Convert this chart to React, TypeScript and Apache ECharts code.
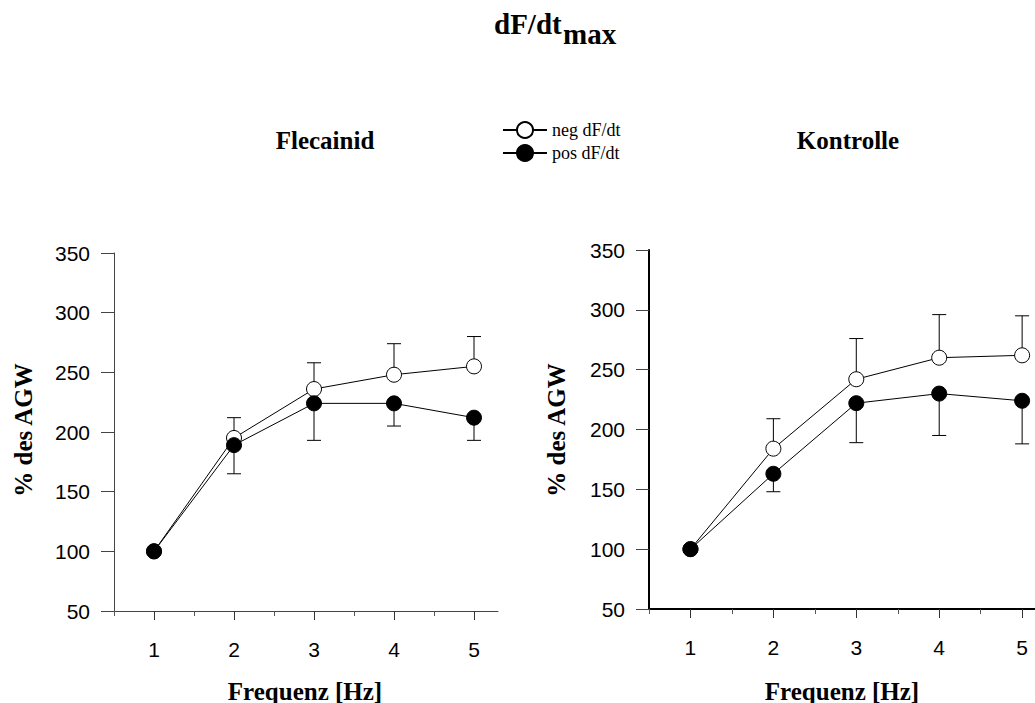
import React, { useEffect, useRef } from "react";
import * as echarts from "echarts";

// ---- data ----
const freqs = [1, 2, 3, 4, 5];
const flecNeg = [100, 195, 236, 248, 255];
const flecNegUpper = [null, 212, 258, 274, 280];
const flecPos = [100, 189, 224, 224, 212];
const flecPosLower = [null, 165, 193, 205, 193];
const kontNeg = [100, 184, 242, 260, 262];
const kontNegUpper = [null, 209, 276, 296, 295];
const kontPos = [100, 163, 222, 230, 224];
const kontPosLower = [null, 148, 189, 195, 188];
const majorXTicks = [1, 2, 3, 4, 5];
const minorXTicks = [0.5, 1.5, 2.5, 3.5, 4.5];
const seriesNames = ["neg dF/dt", "pos dF/dt"];
const panelTitles = ["Flecainid", "Kontrolle"];

const SERIF = '"Liberation Serif", "Times New Roman", serif';
const SANS = '"Liberation Sans", Arial, sans-serif';

function errorSeries(xi: number, yi: number, values: number[], bounds: (number | null)[]) {
  const data: number[][] = [];
  freqs.forEach((f, i) => {
    const b = bounds[i];
    if (b != null) data.push([f, values[i], b]);
  });
  return {
    type: "custom",
    xAxisIndex: xi,
    yAxisIndex: yi,
    z: 1,
    silent: true,
    encode: { x: 0, y: 1 },
    data,
    renderItem: (params: any, api: any) => {
      const x = api.value(0);
      const y = api.value(1);
      const b = api.value(2);
      const p0 = api.coord([x, y]);
      const p1 = api.coord([x, b]);
      return {
        type: "group",
        children: [
          { type: "line", shape: { x1: p0[0], y1: p0[1], x2: p1[0], y2: p1[1] }, style: { stroke: "#000", lineWidth: 1 } },
          { type: "line", shape: { x1: p1[0] - 7, y1: p1[1], x2: p1[0] + 7, y2: p1[1] }, style: { stroke: "#000", lineWidth: 1 } },
        ],
      };
    },
  };
}

function lineSeries(name: string, xi: number, yi: number, values: number[], filled: boolean) {
  return {
    name,
    type: "line",
    xAxisIndex: xi,
    yAxisIndex: yi,
    z: 3,
    silent: true,
    data: freqs.map((f, i) => [f, values[i]]),
    symbol: "circle",
    symbolSize: 15,
    lineStyle: { color: "#000", width: 1 },
    itemStyle: { color: filled ? "#000" : "#fff", borderColor: "#000", borderWidth: 1, opacity: 1 },
  };
}

function xAxes(gridIndex: number, lineColor: string, lineWidth: number) {
  return [
    {
      type: "value",
      gridIndex,
      min: 0.5,
      max: 5.3,
      position: "bottom",
      axisLine: { show: true, onZero: false, lineStyle: { color: lineColor, width: lineWidth } },
      axisTick: { show: true, customValues: majorXTicks, length: 9, lineStyle: { color: "#333", width: 1 } },
      axisLabel: { show: true, customValues: majorXTicks, margin: 28, fontSize: 21, color: "#000", fontFamily: SANS },
      splitLine: { show: false },
    },
    {
      type: "value",
      gridIndex,
      min: 0.5,
      max: 5.3,
      position: "bottom",
      axisLine: { show: false, onZero: false },
      axisTick: { show: true, customValues: minorXTicks, length: 5, lineStyle: { color: "#555", width: 1 } },
      axisLabel: { show: false },
      splitLine: { show: false },
    },
  ];
}

function yAxis(gridIndex: number, lineColor: string, lineWidth: number) {
  return {
    type: "value",
    gridIndex,
    min: 50,
    max: 350,
    interval: 50,
    axisLine: { show: true, onZero: false, lineStyle: { color: lineColor, width: lineWidth } },
    axisTick: { show: true, length: 13, lineStyle: { color: "#444", width: 1 } },
    axisLabel: { margin: 24, fontSize: 21, color: "#000", fontFamily: SANS },
    splitLine: { show: false },
  };
}

function txt(text: string, x: number, y: number, size: number, bold: boolean, extra: any = {}) {
  return {
    type: "text",
    x,
    y,
    silent: true,
    ...extra,
    style: {
      text,
      fill: "#000",
      fontFamily: SERIF,
      fontSize: size,
      fontWeight: bold ? "bold" : "normal",
      align: extra.align || "center",
      verticalAlign: "middle",
    },
  };
}

export default function App() {
  const ref = useRef<HTMLDivElement>(null);
  useEffect(() => {
    if (!ref.current) return;
    const chart = echarts.init(ref.current, null, { renderer: "svg" });
    const option: any = {
      animation: false,
      backgroundColor: "#fff",
      grid: [
        { left: 114, top: 253, width: 384, height: 358, containLabel: false, outerBoundsMode: "none" },
        { left: 649, top: 250, width: 398, height: 359, containLabel: false, outerBoundsMode: "none" },
      ],
      xAxis: [...xAxes(0, "#444", 1), ...xAxes(1, "#000", 2)],
      yAxis: [yAxis(0, "#444", 1), yAxis(1, "#000", 2)],
      legend: {
        data: seriesNames,
        orient: "vertical",
        left: 502,
        top: 121,
        padding: 0,
        itemWidth: 44,
        itemHeight: 20,
        itemGap: 5,
        selectedMode: false,
        textStyle: { fontFamily: SERIF, fontSize: 18, color: "#000" },
      },
      series: [
        errorSeries(0, 0, flecNeg, flecNegUpper),
        errorSeries(0, 0, flecPos, flecPosLower),
        lineSeries(seriesNames[0], 0, 0, flecNeg, false),
        lineSeries(seriesNames[1], 0, 0, flecPos, true),
        errorSeries(2, 1, kontNeg, kontNegUpper),
        errorSeries(2, 1, kontPos, kontPosLower),
        lineSeries(seriesNames[0], 2, 1, kontNeg, false),
        lineSeries(seriesNames[1], 2, 1, kontPos, true),
      ],
      graphic: [
        txt("dF/dt", 494, 24, 29, true, { align: "left" }),
        txt("max", 563, 34, 29, true, { align: "left" }),
        txt(panelTitles[0], 325, 140, 25, true),
        txt(panelTitles[1], 848, 140, 25, true),
        txt("Frequenz [Hz]", 305, 691, 25, true),
        txt("Frequenz [Hz]", 842, 691, 25, true),
        txt("% des AGW", 23, 430, 25, true, { rotation: Math.PI / 2 }),
        txt("% des AGW", 556, 430, 25, true, { rotation: Math.PI / 2 }),
      ],
    };
    chart.setOption(option);
    return () => chart.dispose();
  }, []);
  return (
    <div style={{ position: "absolute", left: 0, top: 0, width: 1035, height: 703, overflow: "hidden" }}>
      <div ref={ref} style={{ position: "absolute", left: 0, top: 0, width: 1070, height: 703 }} />
    </div>
  );
}
